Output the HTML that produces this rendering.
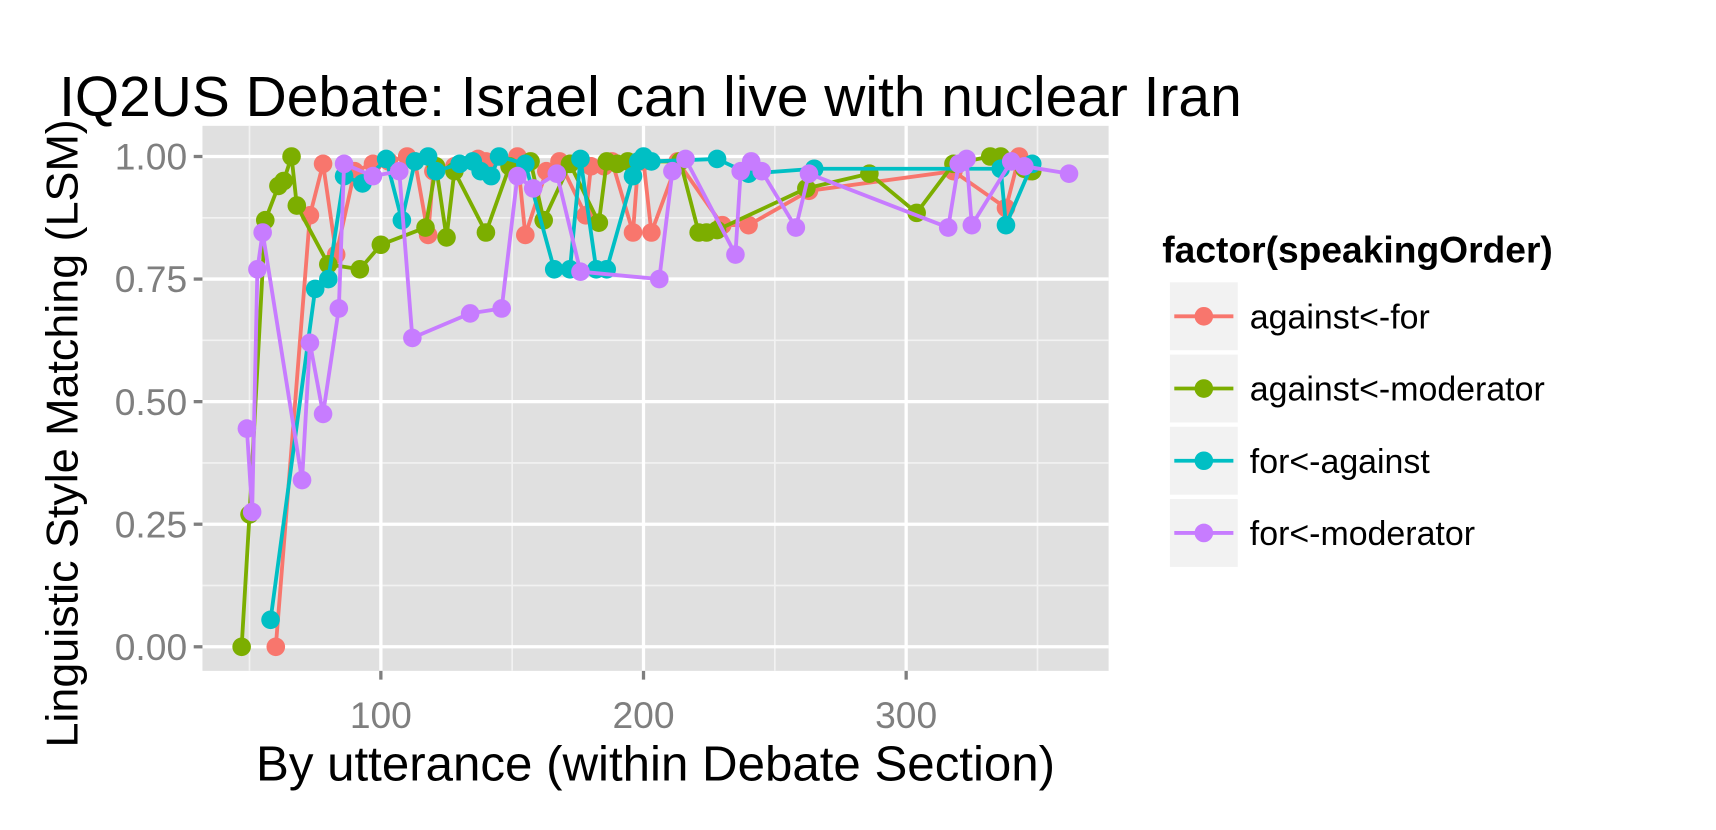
<!DOCTYPE html>
<html><head><meta charset="utf-8"><style>
body{margin:0;background:#fff;}
svg text{font-family:"Liberation Sans",sans-serif;}
</style></head><body>
<svg id="chart" width="1716" height="825" xmlns="http://www.w3.org/2000/svg">
<rect width="1716" height="825" fill="#fff"/>
<g transform="scale(1.0944)">
<g id="plot"></g>
<text x="54" y="106" font-size="52">IQ2US Debate: Israel can live with nuclear Iran</text>
<text x="599" y="713" font-size="45" text-anchor="middle">By utterance (within Debate Section)</text>
<text transform="translate(71,396) rotate(-90)" font-size="41" text-anchor="middle">Linguistic Style Matching (LSM)</text>
<g id="legend"></g>
</g>
</svg>
<script>
const seriesNames=["against<-for","against<-moderator","for<-against","for<-moderator"];
const colors=["#F8766D","#7CAE00","#00BFC4","#C77CFF"];
const redX=[60,73,78,83,90,97,103,110,113,118,120,128,137,140,152,155,163,168,178,180,185,188,196,198,200,203,213,230,240,263,318,338,343,347];
const redY=[0,0.88,0.985,0.80,0.97,0.985,0.99,1.0,0.99,0.84,0.97,0.98,0.995,0.99,1.0,0.84,0.97,0.99,0.88,0.98,0.98,0.99,0.845,0.99,0.99,0.845,0.99,0.86,0.86,0.93,0.97,0.895,1.0,0.97];
const greenX=[47,50,56,61,63,66,68,80,92,100,117,121,125,128,140,149,157,162,172,183,186,190,194,214,221,224,228,262,286,304,318,332,336,345,348];
const greenY=[0,0.27,0.87,0.94,0.95,1.0,0.90,0.78,0.77,0.82,0.855,0.98,0.835,0.97,0.845,0.98,0.99,0.87,0.985,0.865,0.99,0.985,0.99,0.99,0.845,0.845,0.85,0.935,0.965,0.885,0.985,1.0,1.0,0.975,0.97];
const cyanX=[58,75,80,86,93,102,108,113,118,121,130,135,138,142,145,155,166,172,176,182,186,196,198,200,203,228,240,265,336,338,348];
const cyanY=[0.055,0.73,0.75,0.96,0.945,0.995,0.87,0.99,1.0,0.97,0.985,0.99,0.97,0.96,1.0,0.985,0.77,0.77,0.995,0.77,0.77,0.96,0.99,1.0,0.99,0.995,0.965,0.975,0.975,0.86,0.985];
const purpleX=[49,51,53,55,70,73,78,84,86,97,107,112,134,146,152,158,167,176,206,211,216,235,237,241,245,258,263,316,320,323,325,340,345,362];
const purpleY=[0.445,0.275,0.77,0.845,0.34,0.62,0.475,0.69,0.985,0.96,0.97,0.63,0.68,0.69,0.96,0.935,0.965,0.765,0.75,0.97,0.995,0.80,0.97,0.99,0.97,0.855,0.965,0.855,0.985,0.995,0.86,0.99,0.98,0.965];
const yTicks=[0,0.25,0.5,0.75,1.0];
const yTickLabels=["0.00","0.25","0.50","0.75","1.00"];
const xTicks=[100,200,300];
const xTickLabels=["100","200","300"];

const NS="http://www.w3.org/2000/svg";
const L=185,R=1013,T=115,B=613;
const sx=v=>108+v*2.4;
const sy=v=>591-v*448;
const plot=document.getElementById('plot');
function mk(tag,attrs,parent){const e=document.createElementNS(NS,tag);for(const k in attrs)e.setAttribute(k,attrs[k]);parent.appendChild(e);return e;}
const bg=mk('rect',{x:L,y:T,width:R-L,height:B-T,fill:'#E0E0E0'},plot);


[0.125,0.375,0.625,0.875].forEach(v=>{const l=mk('line',{x1:L,x2:R,y1:sy(v),y2:sy(v),stroke:'#F2F2F2','stroke-width':1.5},plot);

});
[50,150,250,350].forEach(v=>{const l=mk('line',{x1:sx(v),x2:sx(v),y1:T,y2:B,stroke:'#F2F2F2','stroke-width':1.5},plot);

});
yTicks.forEach((v,i)=>{const l=mk('line',{x1:L,x2:R,y1:sy(v),y2:sy(v),stroke:'#fff','stroke-width':3},plot);


mk('line',{x1:L-8,x2:L,y1:sy(v),y2:sy(v),stroke:'#7f7f7f','stroke-width':3},plot);
const t=mk('text',{x:L-14,y:sy(v)+12,'font-size':34,fill:'#7f7f7f','text-anchor':'end'},plot);t.textContent=yTickLabels[i];

});
xTicks.forEach((v,i)=>{const l=mk('line',{x1:sx(v),x2:sx(v),y1:T,y2:B,stroke:'#fff','stroke-width':3},plot);


mk('line',{x1:sx(v),x2:sx(v),y1:B,y2:B+8,stroke:'#7f7f7f','stroke-width':3},plot);
const t=mk('text',{x:sx(v),y:B+52,'font-size':34,fill:'#7f7f7f','text-anchor':'middle'},plot);t.textContent=xTickLabels[i];

});
const data=[[redX,redY],[greenX,greenY],[cyanX,cyanY],[purpleX,purpleY]];
data.forEach((d,si)=>{
  const idx=d[0].map((_,i)=>i).sort((a,b)=>d[0][a]-d[0][b]);
  const g=mk('g',{},plot);
  
  
  const pts=idx.map(i=>sx(d[0][i])+','+sy(d[1][i])).join(' ');
  const pl=mk('polyline',{points:pts,fill:'none',stroke:colors[si],'stroke-width':3.5,'stroke-linejoin':'round'},g);
  
  
  idx.forEach(i=>{const c=mk('circle',{cx:sx(d[0][i]),cy:sy(d[1][i]),r:8.5,fill:colors[si]},g);
  
  });
});
const lg=document.getElementById('legend');
const lt=mk('text',{x:1062,y:240,'font-size':34,'font-weight':'bold'},lg);lt.textContent='factor(speakingOrder)';


seriesNames.forEach((n,i)=>{const y0=258+i*66;
  const g=mk('g',{},lg);
  
  
  mk('rect',{x:1069,y:y0,width:62,height:62,fill:'#F2F2F2'},g);
  mk('line',{x1:1073,x2:1127,y1:y0+31,y2:y0+31,stroke:colors[i],'stroke-width':3.5},g);
  mk('circle',{cx:1100,cy:y0+31,r:8.5,fill:colors[i]},g);
  const t=mk('text',{x:1142,y:y0+42,'font-size':31},g);t.textContent=n;});
</script>
</body></html>
